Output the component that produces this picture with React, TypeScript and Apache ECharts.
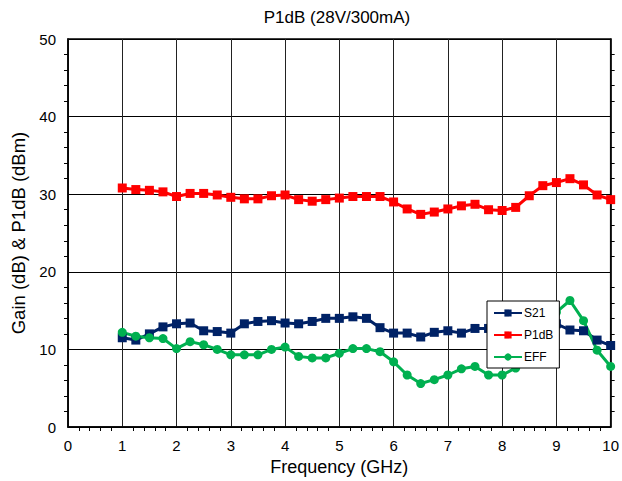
import React, { useEffect, useRef } from "react";
import * as echarts from "echarts";

const freq = [1, 1.25, 1.5, 1.75, 2, 2.25, 2.5, 2.75, 3, 3.25, 3.5, 3.75, 4, 4.25, 4.5, 4.75, 5, 5.25, 5.5, 5.75, 6, 6.25, 6.5, 6.75, 7, 7.25, 7.5, 7.75, 8, 8.25, 8.5, 8.75, 9, 9.25, 9.5, 9.75, 10];
const s21 = [11.5, 11.2, 12.0, 12.9, 13.3, 13.4, 12.4, 12.3, 12.1, 13.3, 13.6, 13.7, 13.4, 13.3, 13.6, 14.0, 14.0, 14.2, 14.0, 12.8, 12.1, 12.1, 11.6, 12.2, 12.4, 12.1, 12.7, 12.7, 12.8, 13.0, 13.2, 13.3, 13.3, 12.5, 12.4, 11.2, 10.5];
const p1db = [30.8, 30.6, 30.5, 30.3, 29.7, 30.1, 30.1, 29.9, 29.6, 29.4, 29.4, 29.8, 29.9, 29.3, 29.1, 29.3, 29.5, 29.7, 29.7, 29.7, 29.0, 28.1, 27.4, 27.7, 28.1, 28.5, 28.7, 28.0, 27.9, 28.3, 29.8, 31.1, 31.5, 32.0, 31.2, 29.9, 29.3];
const eff = [12.2, 11.7, 11.5, 11.4, 10.1, 11.0, 10.6, 10.0, 9.3, 9.3, 9.3, 10.0, 10.3, 9.1, 8.9, 8.9, 9.5, 10.1, 10.1, 9.7, 8.4, 6.7, 5.6, 6.1, 6.7, 7.5, 7.8, 6.7, 6.7, 7.6, 10.0, 12.8, 14.8, 16.3, 13.7, 9.9, 7.8];
const xTicks = [0, 1, 2, 3, 4, 5, 6, 7, 8, 9, 10];
const yTicks = [0, 10, 20, 30, 40, 50];

const FONT = "Liberation Sans, Arial, sans-serif";

export default function App() {
  const ref = useRef<HTMLDivElement>(null);
  useEffect(() => {
    if (!ref.current) return;
    const chart = echarts.init(ref.current, undefined, { renderer: "svg" });
    const pair = (ys: number[]) => freq.map((f, i) => [f, ys[i]]);
    chart.setOption({
      animation: false,
      backgroundColor: "#fff",
      title: {
        text: "P1dB (28V/300mA)",
        left: 337,
        top: 9,
        padding: 0,
        textAlign: "center",
        textStyle: { fontFamily: FONT, fontSize: 17, fontWeight: "normal", color: "#000" },
      },
      grid: { left: 68, right: 7, top: 39, bottom: 54, show: true, borderColor: "#000", borderWidth: 1.5, backgroundColor: "transparent" },
      legend: {
        orient: "vertical",
        left: 487,
        top: 301,
        backgroundColor: "#fff",
        borderColor: "#000",
        borderWidth: 1,
        borderRadius: 0,
        padding: [6, 6, 5, 6],
        itemGap: 10,
        itemWidth: 28,
        itemHeight: 9,
        textStyle: { fontFamily: FONT, fontSize: 12, color: "#000", padding: [0, 0, 0, -3] },
        data: ["S21", "P1dB", "EFF"],
        z: 10,
      },
      xAxis: {
        type: "value",
        min: 0,
        max: 10,
        interval: 1,
        name: "Frequency (GHz)",
        nameLocation: "middle",
        nameGap: 31,
        nameTextStyle: { fontFamily: FONT, fontSize: 18, color: "#000" },
        axisLine: { show: true, lineStyle: { color: "#000", width: 1.5 } },
        axisTick: { show: false },
        minorTick: { show: true, splitNumber: 5, length: 4, lineStyle: { color: "#000" } },
        axisLabel: {
          fontFamily: FONT, fontSize: 15, color: "#000", margin: 11,
          formatter: (v: number) => (xTicks.includes(v) ? String(v) : ""),
        },
        splitLine: { show: true, lineStyle: { color: "#222", width: 1 } },
      },
      yAxis: [
        {
          type: "value",
          min: 0,
          max: 50,
          interval: 10,
          name: "Gain (dB) & P1dB (dBm)",
          nameLocation: "middle",
          nameGap: 40,
          nameTextStyle: { fontFamily: FONT, fontSize: 18.5, color: "#000" },
          axisLine: { show: true, lineStyle: { color: "#000", width: 1.5 } },
          axisTick: { show: false },
          minorTick: { show: true, splitNumber: 5, length: 4, lineStyle: { color: "#000" } },
          axisLabel: {
            fontFamily: FONT, fontSize: 15, color: "#000", margin: 12,
            formatter: (v: number) => (yTicks.includes(v) ? String(v) : ""),
          },
          splitLine: { show: true, lineStyle: { color: "#000", width: 1 } },
        },
        {
          type: "value",
          min: 0,
          max: 50,
          interval: 10,
          position: "right",
          axisLine: { show: true, lineStyle: { color: "#000", width: 1.5 } },
          axisTick: { show: false },
          minorTick: { show: true, splitNumber: 5, length: 4, lineStyle: { color: "#000" } },
          axisLabel: { show: false },
          splitLine: { show: false },
        },
      ],
      series: [
        {
          name: "S21",
          type: "line",
          data: pair(s21),
          symbol: "rect",
          symbolSize: 9,
          color: "#002266",
          lineStyle: { width: 3, color: "#002266" },
          itemStyle: { color: "#002266" },
          z: 3,
        },
        {
          name: "P1dB",
          type: "line",
          data: pair(p1db),
          symbol: "rect",
          symbolSize: 9,
          color: "#ff0000",
          lineStyle: { width: 3, color: "#ff0000" },
          itemStyle: { color: "#ff0000" },
          z: 3,
        },
        {
          name: "EFF",
          type: "line",
          data: pair(eff),
          symbol: "circle",
          symbolSize: 9,
          color: "#00b050",
          lineStyle: { width: 3, color: "#00b050" },
          itemStyle: { color: "#00b050" },
          z: 3,
        },
      ],
    });
    return () => chart.dispose();
  }, []);
  return (
    <div
      ref={ref}
      style={{ position: "fixed", left: 0, top: 0, width: 622, height: 481 }}
    />
  );
}
